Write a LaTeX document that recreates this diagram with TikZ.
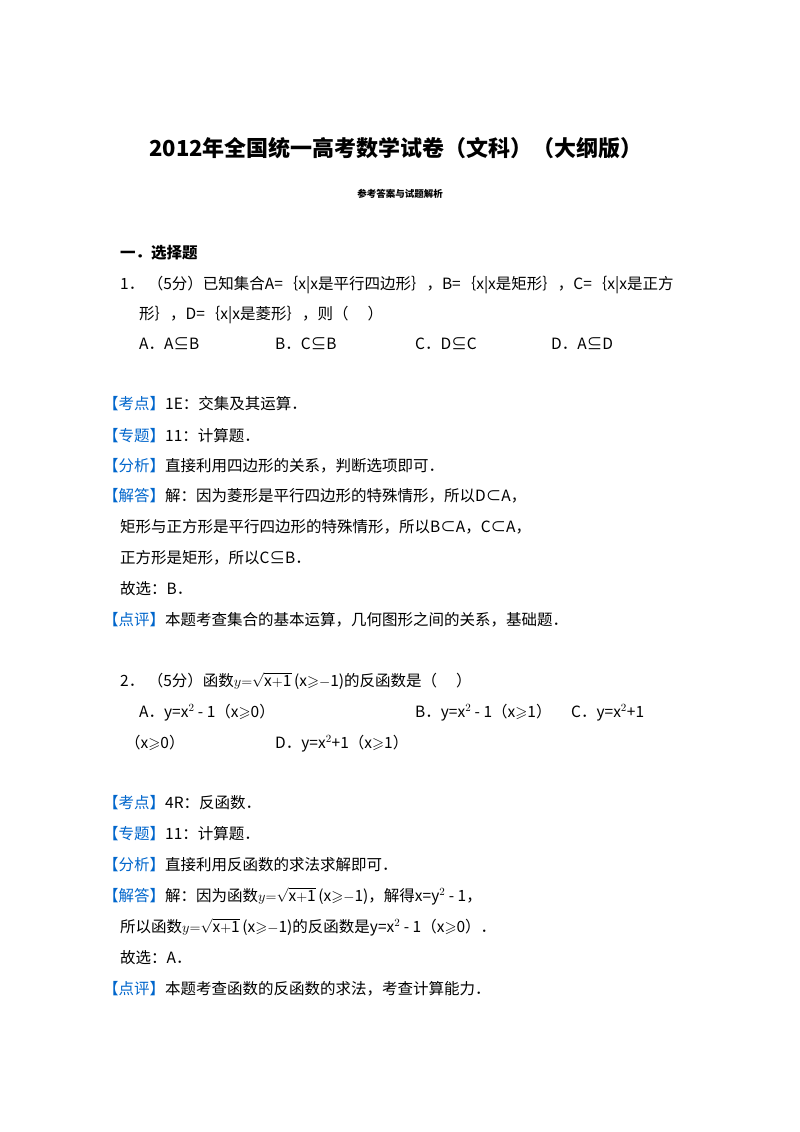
\documentclass[tikz,border=0pt]{standalone}
\usepackage{amssymb}
\usepackage{fontspec}
\setmainfont{Noto Sans CJK SC}
\definecolor{kb}{RGB}{0,102,204}
\newcommand{\kd}[1]{{\color{kb}【#1】}}
\newcommand{\gs}{$\geqslant$}
\begin{document}
\begin{tikzpicture}[x=1pt,y=1pt,
  t/.style={anchor=base west,inner sep=0pt,font=\fontsize{15.5}{18}\selectfont}]
\useasboundingbox (0,0) rectangle (800,-1132);
\fill[white] (0,0) rectangle (800,-1132);
\node[anchor=base,inner sep=0pt,font=\fontsize{22}{24}\selectfont\bfseries] (ti) at (396,-156) {2012年全国统一高考数学试卷（文科）（大纲版）};
\node[anchor=base,inner sep=0pt,font=\fontsize{9.5}{10}\selectfont\bfseries] (st) at (400,-197) {参考答案与试题解析};
\node[t,font=\fontsize{15.5}{18}\selectfont\bfseries] (s1) at (120,-258) {一．选择题};
\node[t] (q1a) at (120,-289) {1．\ （5分）已知集合A=｛x|x是平行四边形｝，B=｛x|x是矩形｝，C=｛x|x是正方};
\node[t] (q1b) at (139,-319) {形｝，D=｛x|x是菱形｝，则（\quad\ ）};
\node[t] (o1a) at (139,-349) {A．A⊆B};
\node[t] (o1b) at (275,-349) {B．C⊆B};
\node[t] (o1c) at (415,-349) {C．D⊆C};
\node[t] (o1d) at (551,-349) {D．A⊆D};
\node[t] (k1) at (103,-409) {\kd{考点}1E：交集及其运算．};
\node[t] (z1) at (103,-441) {\kd{专题}11：计算题．};
\node[t] (f1) at (103,-471) {\kd{分析}直接利用四边形的关系，判断选项即可．};
\node[t] (j1) at (103,-501) {\kd{解答}解：因为菱形是平行四边形的特殊情形，所以D⊂A，};
\node[t] (j1b) at (120,-532) {矩形与正方形是平行四边形的特殊情形，所以B⊂A，C⊂A，};
\node[t] (j1c) at (120,-563) {正方形是矩形，所以C⊆B．};
\node[t] (g1) at (120,-594) {故选：B．};
\node[t] (p1) at (103,-625) {\kd{点评}本题考查集合的基本运算，几何图形之间的关系，基础题．};
\node[t] (q2) at (120,-686) {2．\ （5分）函数$y{=}\sqrt{\mathrm{x{+}1}}$\,(x\gs$-$1)的反函数是（\quad\ ）};
\node[t] (o2a) at (139,-717) {A．y=x$^2$ - 1（x\gs0）};
\node[t] (o2b) at (415,-717) {B．y=x$^2$ - 1（x\gs1）};
\node[t] (o2c) at (571,-717) {C．y=x$^2$+1};
\node[t] (o2c2) at (125,-748) {（x\gs0）};
\node[t] (o2d) at (275,-748) {D．y=x$^2$+1（x\gs1）};
\node[t] (k2) at (103,-808) {\kd{考点}4R：反函数．};
\node[t] (z2) at (103,-839) {\kd{专题}11：计算题．};
\node[t] (f2) at (103,-870) {\kd{分析}直接利用反函数的求法求解即可．};
\node[t] (j2) at (103,-901) {\kd{解答}解：因为函数$y{=}\sqrt{\mathrm{x{+}1}}$\,(x\gs$-$1)，解得x=y$^2$ - 1，};
\node[t] (j2b) at (120,-932) {所以函数$y{=}\sqrt{\mathrm{x{+}1}}$\,(x\gs$-$1)的反函数是y=x$^2$ - 1（x\gs0）．};
\node[t] (g2) at (120,-963) {故选：A．};
\node[t] (p2) at (103,-994) {\kd{点评}本题考查函数的反函数的求法，考查计算能力．};
\end{tikzpicture}
\end{document}
